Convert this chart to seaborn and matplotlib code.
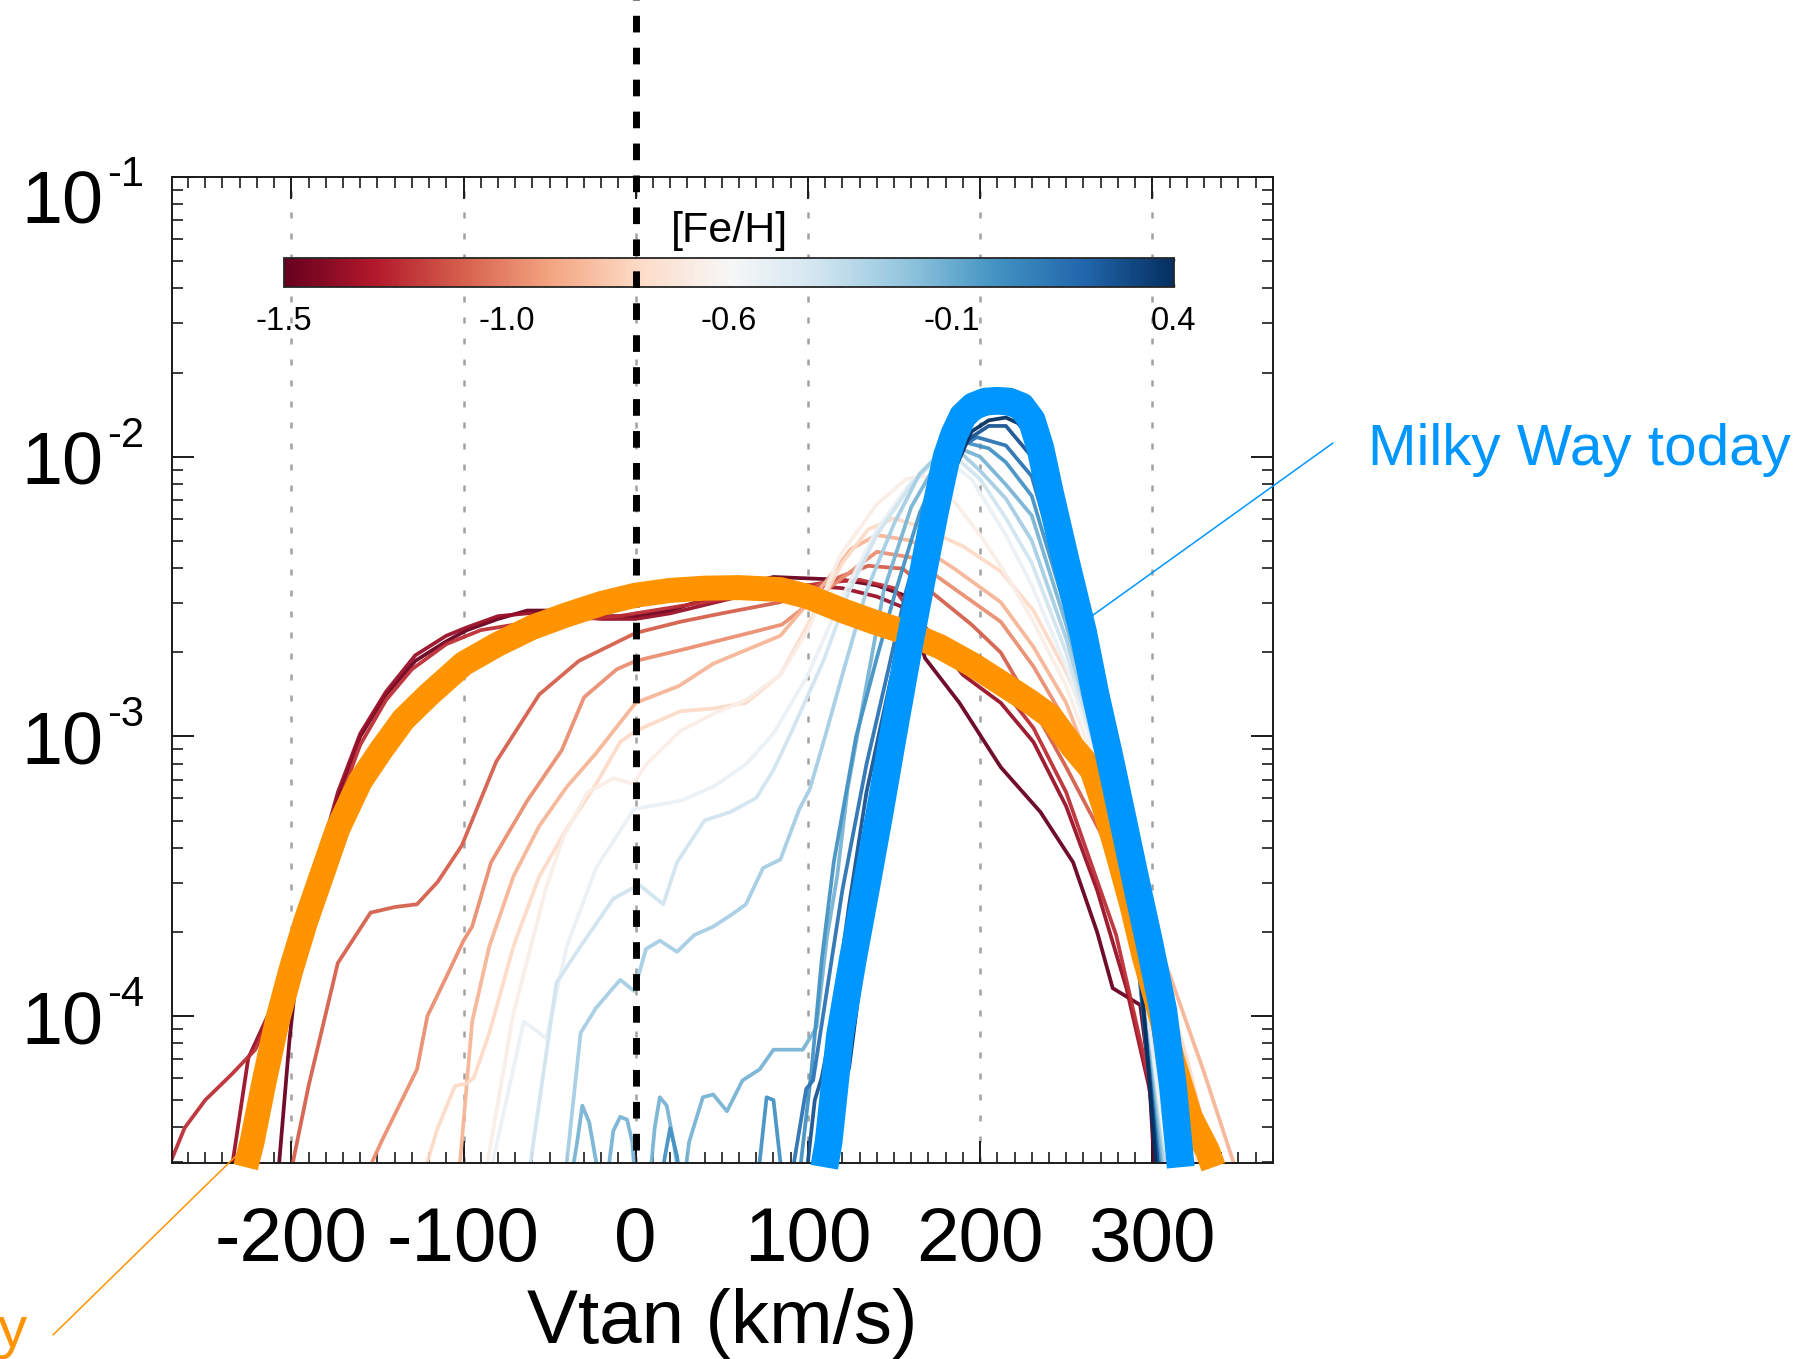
import numpy as np
import pandas as pd
import matplotlib
matplotlib.use("Agg")
import matplotlib.pyplot as plt
import seaborn as sns
from matplotlib.colors import Normalize
from matplotlib.cm import ScalarMappable
from matplotlib.ticker import MultipleLocator, LogLocator, NullFormatter

# ---------------- data (v in km/s, log10 of density) ----------------
feh_values = [-1.5, -1.37, -1.25, -1.12, -0.99, -0.87, -0.74, -0.61,
              -0.49, -0.36, -0.23, -0.11, 0.02, 0.15, 0.27, 0.4]

c01 = [(-207,-4.52),(-201,-4.08),(-195,-3.74),(-185,-3.50),(-173,-3.22),(-160,-3.00),(-145,-2.85),
       (-128,-2.73),(-110,-2.66),(-98,-2.62),(-80,-2.58),(-63,-2.55),(-40,-2.55),(-20,-2.57),(0,-2.57),
       (20,-2.55),(40,-2.51),(60,-2.46),(80,-2.43),(100,-2.435),(120,-2.44),(140,-2.46),(158,-2.50),
       (168,-2.72),(188,-2.88),(212,-3.11),(235,-3.27),(254,-3.45),(268,-3.70),(277,-3.90),(293,-3.96),
       (298,-4.20),(301,-4.52)]
c02 = [(-234,-4.52),(-225,-4.15),(-210,-3.95),(-192,-3.62),(-173,-3.20),(-160,-2.99),(-145,-2.84),
       (-128,-2.71),(-110,-2.64),(-98,-2.61),(-80,-2.57),(-63,-2.56),(-40,-2.57),(-20,-2.58),(0,-2.58),
       (20,-2.56),(40,-2.53),(60,-2.50),(80,-2.47),(100,-2.46),(120,-2.47),(140,-2.50),(160,-2.55),
       (175,-2.66),(190,-2.78),(212,-2.88),(231,-3.02),(250,-3.25),(268,-3.55),(285,-3.90),(298,-4.25),
       (305,-4.52)]
c03 = [(-270,-4.52),(-262,-4.40),(-250,-4.30),(-235,-4.21),(-221,-4.12),(-210,-3.98),(-192,-3.60),
       (-175,-3.28),(-160,-3.03),(-145,-2.87),(-130,-2.76),(-110,-2.67),(-90,-2.62),(-70,-2.60),
       (-50,-2.59),(-30,-2.58),(-10,-2.57),(10,-2.55),(30,-2.53),(50,-2.51),(70,-2.49),(90,-2.47),
       (110,-2.45),(130,-2.44),(150,-2.47),(165,-2.60),(190,-2.74),(212,-2.82),(231,-2.97),(250,-3.20),
       (279,-3.71),(299,-4.25),(307,-4.52)]
c04 = [(-199,-4.52),(-190,-4.25),(-173,-3.81),(-154,-3.63),(-140,-3.61),(-127,-3.60),(-115,-3.52),
       (-101,-3.39),(-81,-3.09),(-56,-2.85),(-33,-2.73),(0,-2.63),(26,-2.59),(50,-2.56),(84,-2.52),
       (110,-2.45),(135,-2.39),(155,-2.40),(175,-2.50),(195,-2.60),(212,-2.70),(231,-2.90),(250,-3.11),
       (279,-3.45),(299,-4.03),(312,-4.52)]
c05 = [(-153,-4.52),(-147,-4.44),(-127,-4.19),(-121,-4.00),(-110,-3.86),(-100,-3.73),(-95,-3.68),
       (-84,-3.45),(-63,-3.23),(-43,-3.05),(-30,-2.86),(-11,-2.76),(0,-2.73),(27,-2.69),(66,-2.63),
       (85,-2.60),(110,-2.48),(140,-2.34),(160,-2.36),(180,-2.45),(212,-2.59),(231,-2.75),(250,-2.95),
       (279,-3.35),(299,-3.89),(315,-4.30),(325,-4.52)]
c06 = [(-102,-4.52),(-95,-4.02),(-85,-3.75),(-71,-3.50),(-56,-3.32),(-40,-3.18),(-23,-3.06),(-9,-2.95),
       (0,-2.88),(25,-2.82),(45,-2.74),(84,-2.64),(110,-2.45),(125,-2.33),(140,-2.28),(160,-2.30),
       (185,-2.40),(212,-2.52),(231,-2.68),(250,-2.88),(270,-3.20),(290,-3.55),(310,-3.85),(330,-4.20),
       (347,-4.52)]
c07 = [(-121,-4.52),(-115,-4.40),(-105,-4.25),(-98,-4.24),(-94,-4.22),(-85,-4.06),(-71,-3.75),
       (-56,-3.50),(-40,-3.33),(-23,-3.17),(-9,-3.02),(0,-2.98),(26,-2.91),(45,-2.90),(64,-2.88),
       (84,-2.78),(100,-2.60),(120,-2.38),(135,-2.26),(150,-2.22),(165,-2.25),(190,-2.32),(212,-2.41),
       (231,-2.55),(250,-2.77),(265,-2.98),(280,-3.22),(299,-3.71),(320,-4.15),(335,-4.52)]
c08 = [(-86,-4.52),(-71,-3.99),(-52,-3.54),(-42,-3.36),(-28,-3.20),(-13,-3.15),(-1,-3.17),(6,-3.10),
       (26,-2.98),(45,-2.92),(64,-2.87),(84,-2.78),(100,-2.62),(119,-2.35),(140,-2.17),(157,-2.08),
       (167,-2.07),(180,-2.12),(200,-2.28),(215,-2.42),(230,-2.58),(250,-2.82),(270,-3.15),(290,-3.60),
       (310,-4.15),(325,-4.52)]
c09 = [(-83,-4.52),(-65,-4.02),(-58,-4.05),(-52,-4.08),(-40,-3.75),(-23,-3.47),(-1,-3.26),(26,-3.23),
       (45,-3.18),(64,-3.10),(80,-2.99),(100,-2.78),(120,-2.50),(140,-2.26),(160,-2.09),(178,-2.00),
       (195,-2.08),(215,-2.28),(230,-2.46),(250,-2.75),(270,-3.12),(290,-3.70),(310,-4.52)]
c10 = [(-61,-4.52),(-46,-3.88),(-32,-3.75),(-13,-3.58),(2,-3.53),(16,-3.60),(24,-3.45),(40,-3.30),
       (55,-3.27),(70,-3.22),(80,-3.12),(90,-2.99),(109,-2.73),(124,-2.48),(140,-2.28),(160,-2.10),
       (175,-2.00),(182,-1.98),(200,-2.08),(215,-2.22),(230,-2.38),(250,-2.70),(270,-3.10),(290,-3.75),
       (307,-4.52)]
c11 = [(-40,-4.52),(-32,-4.06),(-23,-3.97),(-9,-3.87),(-1,-3.91),(6,-3.76),(14,-3.73),(24,-3.77),
       (34,-3.71),(45,-3.68),(55,-3.64),(64,-3.60),(74,-3.47),(84,-3.44),(95,-3.26),(101,-3.19),
       (110,-3.00),(120,-2.78),(134,-2.48),(150,-2.24),(165,-2.06),(178,-1.98),(186,-1.97),(200,-2.05),
       (215,-2.15),(230,-2.30),(250,-2.65),(270,-3.08),(290,-3.72),(306,-4.52)]
c12 = [(-38,-4.60),(-34,-4.45),(-31,-4.32),(-27,-4.38),(-23,-4.52),(-19,-4.70),(-17,-4.60),(-13,-4.41),
       (-9,-4.36),(-5,-4.37),(-2,-4.45),(1,-4.70),(8,-4.60),(11,-4.40),(14,-4.29),(18,-4.32),(22,-4.45),
       (27,-4.65),(31,-4.45),(39,-4.29),(45,-4.28),(53,-4.34),(62,-4.23),(72,-4.19),(80,-4.12),(90,-4.12),
       (97,-4.12),(105,-4.04),(111,-3.72),(117,-3.50),(123,-3.19),(133,-2.85),(144,-2.48),(160,-2.18),
       (175,-2.02),(188,-1.97),(200,-2.00),(215,-2.10),(230,-2.21),(250,-2.60),(270,-3.05),(290,-3.70),
       (305,-4.52)]
c13 = [(12,-4.70),(17,-4.50),(20,-4.40),(24,-4.50),(28,-4.70),(68,-4.70),(72,-4.52),(76,-4.29),(80,-4.30),
       (84,-4.52),(88,-4.70),(96,-4.52),(102,-4.20),(108,-3.80),(115,-3.45),(128,-3.00),(140,-2.72),
       (151,-2.48),(165,-2.20),(180,-2.00),(192,-1.95),(205,-1.97),(215,-2.02),(230,-2.14),(250,-2.55),
       (270,-3.02),(290,-3.70),(304,-4.52)]
c14 = [(92,-4.52),(99,-4.26),(103,-4.23),(110,-3.95),(120,-3.55),(134,-3.10),(146,-2.78),(157,-2.48),
       (170,-2.20),(185,-1.98),(198,-1.93),(215,-1.96),(230,-2.07),(250,-2.50),(270,-3.00),(290,-3.70),
       (303,-4.52)]
c15 = [(100,-4.52),(104,-4.30),(108,-4.22),(115,-4.00),(124,-3.60),(134,-3.20),(148,-2.80),(161,-2.48),
       (175,-2.18),(190,-1.95),(205,-1.89),(215,-1.89),(230,-2.00),(240,-2.17),(250,-2.42),(270,-2.95),
       (290,-3.65),(303,-4.52)]
c16 = [(116,-4.52),(119,-4.30),(124,-4.18),(132,-3.80),(142,-3.30),(153,-2.85),(165,-2.48),(180,-2.12),
       (195,-1.91),(205,-1.87),(215,-1.86),(222,-1.88),(230,-1.94),(240,-2.10),(250,-2.35),(270,-2.90),
       (290,-3.60),(302,-4.52)]
curves = [c01, c02, c03, c04, c05, c06, c07, c08, c09, c10, c11, c12, c13, c14, c15, c16]

# thick model curves
ancient_v  = [-226.5,-222.8,-216,-208.3,-200,-191.6,-182,-173,-160,-148,-135,-120,-100,-80,-60,-40,
              -20,0,20,40,60,84,100,120,138,158,177,196,215,230,241,254,265,272,280,288,295,305,
              312,322,332,335.5]
ancient_lf = [-4.54,-4.45,-4.24,-4.02,-3.83,-3.66,-3.49,-3.33,-3.16,-3.05,-2.94,-2.85,-2.74,-2.67,
              -2.61,-2.565,-2.525,-2.495,-2.478,-2.47,-2.468,-2.475,-2.50,-2.55,-2.59,-2.63,-2.68,
              -2.745,-2.82,-2.88,-2.93,-3.04,-3.12,-3.25,-3.42,-3.60,-3.78,-4.00,-4.16,-4.36,-4.48,-4.54]
today_v  = [109.5,112,118.6,126,134.1,142,149.6,158,167,174,180.6,185,190,196,203,210,217,224,230,
            235,240.6,250,259.9,267,275.4,283,290.9,298,306.4,312,316.5]
today_lf = [-4.54,-4.45,-4.07,-3.80,-3.53,-3.26,-2.99,-2.70,-2.41,-2.19,-2.00,-1.92,-1.855,-1.82,
            -1.803,-1.80,-1.803,-1.82,-1.87,-1.97,-2.13,-2.38,-2.63,-2.85,-3.08,-3.30,-3.53,-3.73,
            -3.98,-4.25,-4.54]

xticks = [-200, -100, 0, 100, 200, 300]
yticks = [1e-4, 1e-3, 1e-2, 1e-1]
ytick_mantissa = ["10", "10", "10", "10"]
ytick_exponent = ["-4", "-3", "-2", "-1"]
cbar_ticks = [-1.5, -1.2625, -1.025, -0.7875, -0.55, -0.3125, -0.075, 0.1625, 0.4]
cbar_labels = ["-1.5", "", "-1.0", "", "-0.6", "", "-0.1", "", "0.4"]

ORANGE = "#FF9300"
BLUE = "#0096FF"

# ---------------- style ----------------
sns.set_style("ticks")
plt.rcParams["font.family"] = ["Liberation Sans", "DejaVu Sans"]
plt.rcParams["axes.unicode_minus"] = False
plt.rcParams["text.color"] = "black"
plt.rcParams["axes.labelcolor"] = "black"
plt.rcParams["xtick.color"] = "black"
plt.rcParams["ytick.color"] = "black"

W, H = 1820, 1359
PX = 72 / 100  # points per pixel
fig = plt.figure(figsize=(W / 100, H / 100), dpi=100)
ax = fig.add_axes([172 / W, 1 - 1163 / H, (1273 - 172) / W, (1163 - 177) / H])
ax.set_yscale("log")

cmap = plt.get_cmap("RdBu")
norm = Normalize(-1.5, 0.4)

rows = []
for feh, pts in zip(feh_values, curves):
    for v, lf in pts:
        rows.append((feh, v, 10 ** lf))
df = pd.DataFrame(rows, columns=["feh", "v", "f"])
palette = {feh: cmap(norm(feh)) for feh in feh_values}

sns.lineplot(data=df, x="v", y="f", hue="feh", palette=palette, estimator=None,
             sort=False, legend=False, lw=2.7, alpha=0.95, ax=ax, zorder=2)

XLIM = (-269.3, 370.1)
YLIM = (10 ** -4.525, 0.1)
ax.set_xlim(*XLIM)
ax.set_ylim(*YLIM)

ax.set_xticks(xticks)
ax.xaxis.set_minor_locator(MultipleLocator(10))
ax.set_yticks(yticks)
ax.set_yticklabels([""] * len(yticks))
ax.yaxis.set_minor_locator(LogLocator(base=10, subs=range(2, 10), numticks=20))
ax.yaxis.set_minor_formatter(NullFormatter())
ax.tick_params(which="both", direction="in", top=True, right=True, color="#1a1a1a",
               labelcolor="black")
ax.tick_params(which="major", length=15.8, width=1.4)
ax.tick_params(which="minor", length=7.9, width=1.2)
ax.tick_params(axis="x", which="major", labelsize=55, pad=31)
for s in ax.spines.values():
    s.set_linewidth(1.4)
    s.set_color("#1a1a1a")
ax.grid(axis="x", which="major", color="0.63", lw=1.8, ls=(0, (2.4, 6.0)))
ax.set_axisbelow(True)
ax.set_xlabel("Vtan (km/s)", fontsize=55, labelpad=8, color="black")
ax.set_ylabel("")

# y tick labels written as "10" with a raised exponent
for i, (val, man, ex) in enumerate(zip(yticks, ytick_mantissa, ytick_exponent)):
    base_dy = -47 if i == len(yticks) - 1 else -28
    ax.annotate(man, xy=(0, val), xycoords=("axes fraction", "data"),
                xytext=(-69 * PX, base_dy * PX), textcoords="offset points",
                ha="right", va="baseline", fontsize=53, color="black", annotation_clip=False)
    ax.annotate(ex, xy=(0, val), xycoords=("axes fraction", "data"),
                xytext=(-65 * PX, (base_dy + 38) * PX), textcoords="offset points",
                ha="left", va="baseline", fontsize=30, color="black", annotation_clip=False)

# colorbar inside the axes
cax = fig.add_axes([284 / W, 1 - 286.7 / H, 890 / W, 28.4 / H])
cax.set_zorder(1)
sm = ScalarMappable(norm=norm, cmap=cmap)
cb = fig.colorbar(sm, cax=cax, orientation="horizontal")
cb.set_ticks(cbar_ticks)
cb.set_ticklabels(cbar_labels)
cax.tick_params(direction="in", length=2.4, width=1.0, top=True, bottom=True,
                labelsize=23.5, pad=14, colors="black")
cb.outline.set_linewidth(1.3)
fig.text(729 / W, 1 - 242 / H, "[Fe/H]", fontsize=31, ha="center", va="baseline",
         color="black")

# overlay axes for the dashed zero line and the two model curves
ov = fig.add_axes(ax.get_position())
ov.set_zorder(2)
ov.set_yscale("log")
ov.patch.set_visible(False)
ov.plot([0, 0], [10 ** -4.48, 10 ** 0.6], color="black", lw=5, ls=(0, (2.4, 2.2)),
        dash_capstyle="butt", clip_on=False, zorder=3)
sns.lineplot(x=ancient_v, y=10 ** np.array(ancient_lf), ax=ov, color=ORANGE, lw=18,
             sort=False, estimator=None, clip_on=False, solid_capstyle="butt", zorder=4)
sns.lineplot(x=today_v, y=10 ** np.array(today_lf), ax=ov, color=BLUE, lw=20,
             sort=False, estimator=None, clip_on=False, solid_capstyle="butt",
             solid_joinstyle="round", zorder=5)
ov.set_xlim(*XLIM)
ov.set_ylim(*YLIM)
ov.axis("off")

# annotations
fig.text(1368 / W, 1 - 465 / H, "Milky Way today", color=BLUE, fontsize=42,
         ha="left", va="baseline")
ov.annotate("", xy=(260.9, 10 ** -2.587), xycoords="data",
            xytext=(1333 / W, 1 - 443 / H), textcoords="figure fraction",
            arrowprops=dict(arrowstyle="-", color=BLUE, lw=1.1, shrinkA=0, shrinkB=0),
            annotation_clip=False)
fig.text(-0.001, 1 - 1347 / H, "y", color=ORANGE, fontsize=42, ha="left", va="baseline")
ov.annotate("", xy=(-232.7, 10 ** -4.503), xycoords="data",
            xytext=(53 / W, 1 - 1335 / H), textcoords="figure fraction",
            arrowprops=dict(arrowstyle="-", color=ORANGE, lw=1.1, shrinkA=0, shrinkB=0),
            annotation_clip=False)

fig.savefig("out.png", dpi=100)
